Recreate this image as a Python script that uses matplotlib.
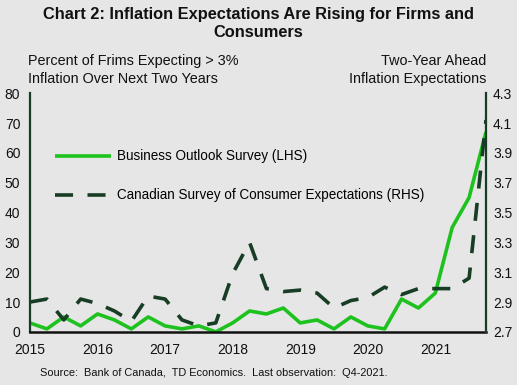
#! /usr/bin/python

import numpy as np
import matplotlib
matplotlib.use("Agg")
import matplotlib.pyplot as plt

plt.rcParams['font.family'] = ['Liberation Sans', 'DejaVu Sans']

# quarterly, 2015Q1 .. 2021Q4
quarters = [2015 + i * 0.25 for i in range(28)]

# percent of firms expecting > 3% inflation (LHS)
bos = [3, 1, 5, 2, 6, 4, 1, 5, 2, 1, 2, 0, 3, 7, 6, 8,
       3, 4, 1, 5, 2, 1, 11, 8, 13, 35, 45, 67]

# two-year ahead inflation expectations (RHS)
csce = [2.90, 2.92, 2.78, 2.92, 2.89, 2.84, 2.77, 2.94, 2.92, 2.78, 2.74, 2.76,
        3.09, 3.30, 2.99, 2.97, 2.98, 2.96, 2.86, 2.91, 2.93, 3.00, 2.95, 2.99,
        2.99, 2.99, 3.06, 4.12]

years = [2015, 2016, 2017, 2018, 2019, 2020, 2021]
left_ticks = [0, 10, 20, 30, 40, 50, 60, 70, 80]
right_ticks = [2.7, 2.9, 3.1, 3.3, 3.5, 3.7, 3.9, 4.1, 4.3]

green = '#1EC21E'
dark = '#173D24'
bg = '#E6E6E6'

fig = plt.figure(figsize=(5.17, 3.85), dpi=100)
fig.patch.set_facecolor(bg)
ax = fig.add_axes([0.058, 0.138, 0.882, 0.62])
ax.set_facecolor(bg)
ax2 = ax.twinx()

line1, = ax.plot(quarters, bos, color=green, linewidth=2.6, solid_capstyle='butt')
line2, = ax2.plot(quarters, csce, color=dark, linewidth=2.6,
                  dashes=(5, 4), dash_capstyle='butt')

ax.set_xlim(2015, 2021.75)
ax.set_ylim(0, 80)
ax2.set_ylim(2.7, 4.3)

ax.set_xticks(years)
ax.set_xticklabels([str(y) for y in years])
ax.set_yticks(left_ticks)
ax2.set_yticks(right_ticks)
ax2.set_yticklabels(['%.1f' % v for v in right_ticks])

for a in (ax, ax2):
    a.tick_params(length=0, labelsize=10, colors='#111111')
    for s in a.spines.values():
        s.set_visible(False)
ax.tick_params(axis='y', pad=7)
ax.tick_params(axis='x', pad=8)
ax2.tick_params(axis='y', pad=5)

ax.spines['left'].set_visible(True)
ax.spines['left'].set_color(dark)
ax.spines['left'].set_linewidth(1.6)
ax.spines['bottom'].set_visible(True)
ax.spines['bottom'].set_color('#111111')
ax.spines['bottom'].set_linewidth(1.8)
ax2.spines['right'].set_visible(True)
ax2.spines['right'].set_color(dark)
ax2.spines['right'].set_linewidth(1.6)

leg = ax.legend([line1, line2],
                ['Business Outlook Survey (LHS)',
                 'Canadian Survey of Consumer Expectations (RHS)'],
                loc='upper left', bbox_to_anchor=(0.055, 0.765),
                frameon=False, fontsize=9.75, handlelength=4.1,
                handletextpad=0.45, labelspacing=1.85,
                borderpad=0, borderaxespad=0)

fig.text(0.5, 0.983, 'Chart 2: Inflation Expectations Are Rising for Firms and\nConsumers',
         ha='center', va='top', fontsize=11.8, fontweight='bold',
         linespacing=1.3, color='#111111')
fig.text(28 / 517.0, 1 - 54 / 385.0, 'Percent of Frims Expecting > 3%\nInflation Over Next Two Years',
         ha='left', va='top', fontsize=10.4, linespacing=1.4, color='#111111')
fig.text(486 / 517.0, 1 - 54 / 385.0, 'Two-Year Ahead\nInflation Expectations',
         ha='right', va='top', fontsize=10.4, linespacing=1.4, color='#111111')
fig.text(40 / 517.0, 1 - 373 / 385.0,
         'Source:  Bank of Canada,  TD Economics.  Last observation:  Q4-2021.',
         ha='left', va='center', fontsize=7.9, color='#111111')

fig.savefig('out.png', dpi=100, facecolor=bg)
